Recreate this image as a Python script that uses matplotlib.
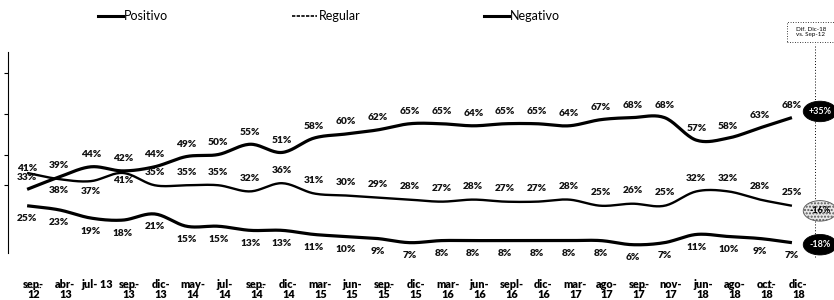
import numpy as np
import matplotlib
matplotlib.use('Agg')
import matplotlib.pyplot as plt
from matplotlib.lines import Line2D
from matplotlib.patches import Ellipse, Rectangle
import matplotlib.transforms as mtransforms

plt.rcParams['font.family'] = ['Lato', 'DejaVu Sans']

# data
periods = ['sep-\n12', 'abr-\n13', 'jul- 13', 'sep-\n13', 'dic-\n13', 'may-\n14', 'jul-\n14',
           'sep-\n14', 'dic-\n14', 'mar-\n15', 'jun-\n15', 'sep-\n15', 'dic-\n15', 'mar-\n16',
           'jun-\n16', 'sepl-\n16', 'dic-\n16', 'mar-\n17', 'ago-\n17', 'sep-\n17', 'nov-\n17',
           'jun-\n18', 'ago-\n18', 'oct-\n18', 'dic-\n18']
underlined = [0, 3, 7, 11, 19, 23]
positivo = [33, 39, 44, 42, 44, 49, 50, 55, 51, 58, 60, 62, 65, 65, 64, 65, 65, 64, 67, 68, 68, 57, 58, 63, 68]
regular = [41, 38, 37, 41, 35, 35, 35, 32, 36, 31, 30, 29, 28, 27, 28, 27, 27, 28, 25, 26, 25, 32, 32, 28, 25]
negativo = [25, 23, 19, 18, 21, 15, 15, 13, 13, 11, 10, 9, 7, 8, 8, 8, 8, 8, 8, 6, 7, 11, 10, 9, 7]
diffs = ['+35%', '-16%', '-18%']


def smooth(y, n=20):
    # cardinal spline through the points (like excel smoothed lines)
    y = np.asarray(y, dtype=float)
    x = np.arange(len(y), dtype=float)
    m = np.zeros_like(y)
    m[1:-1] = (y[2:] - y[:-2]) / 2.0
    m[0] = y[1] - y[0]
    m[-1] = y[-1] - y[-2]
    xs, ys = [], []
    t = np.linspace(0, 1, n, endpoint=False)
    h00 = 2*t**3 - 3*t**2 + 1
    h10 = t**3 - 2*t**2 + t
    h01 = -2*t**3 + 3*t**2
    h11 = t**3 - t**2
    for i in range(len(y) - 1):
        xs.append(x[i] + t)
        ys.append(h00*y[i] + h10*m[i] + h01*y[i+1] + h11*m[i+1])
    xs.append([x[-1]])
    ys.append([y[-1]])
    return np.concatenate(xs), np.concatenate(ys)


fig = plt.figure(figsize=(8.34, 3.0), dpi=100)
ax = fig.add_axes([8/834, 43/300, 826/834, 205/300])
ax.set_xlim(-0.6, 25.32)
ax.set_ylim(0, 100)

for vals, lw in [(positivo, 2.3), (regular, 1.7), (negativo, 2.3)]:
    xs, ys = smooth(vals)
    ax.plot(xs, ys, color='black', lw=lw, solid_capstyle='butt', clip_on=False)

lab_kw = dict(ha='center', va='center', fontsize=7.3, fontweight='heavy', color='#111111')
to_px = lambda dy: mtransforms.offset_copy(ax.transData, fig=fig, x=0, y=dy, units='dots')
for i, v in enumerate(positivo):
    ax.text(i, v, '%d%%' % v, transform=to_px(12), **lab_kw)
reg_off = [4, -11, -10, -8] + [13] * (len(regular) - 4)
for i, v in enumerate(regular):
    ax.text(i, v, '%d%%' % v, transform=to_px(reg_off[i]), **lab_kw)
for i, v in enumerate(negativo):
    ax.text(i, v, '%d%%' % v, transform=to_px(-13), **lab_kw)

# axes styling
for s in ['top', 'right', 'bottom']:
    ax.spines[s].set_visible(False)
ax.spines['left'].set_linewidth(0.8)
ax.spines['left'].set_bounds(2, 100)
ax.set_yticks([35, 50, 70, 90])
ax.set_yticklabels([])
ax.tick_params(axis='y', direction='out', length=3, width=0.8)
ax.set_xticks(np.arange(len(periods)) + 0.2)
ax.set_xticklabels(periods, fontsize=7.8, fontweight='heavy', linespacing=0.9)
ax.tick_params(axis='x', length=0, pad=16)

# underline on some tick labels
blend = mtransforms.blended_transform_factory(ax.transData, ax.transAxes)
for i in underlined:
    ax.plot([i - 0.05, i + 0.42], [-0.148, -0.148], color='#222222', lw=0.8, ls=(0, (1.2, 0.5)),
            transform=blend, clip_on=False)

# legend
handles = [Line2D([], [], color='black', lw=2.2),
           Line2D([], [], color='black', lw=1.2, ls=(0, (2, 0.8))),
           Line2D([], [], color='black', lw=2.2)]
fig.legend(handles, ['Positivo', 'Regular', 'Negativo'], loc='center left',
           bbox_to_anchor=(98/834, 1 - 16/300), ncol=3, frameon=False, fontsize=9,
           handlelength=2, handletextpad=0.1, columnspacing=9.9, borderaxespad=0, borderpad=0)

# difference badges on the right
xb = 24.88
ax.plot([24.72, 24.72], [0, 104], color='black', lw=0.7, ls=(0, (1, 2)), clip_on=False)
box = Rectangle((787/834, 1 - 42/300), 47/834, 20/300, transform=fig.transFigure,
                fill=False, ec='black', lw=0.6, ls=(0, (1, 2)))
fig.patches.append(box)
fig.text(811/834, 1 - 32/300, 'Dif. Dic-18\nvs. Sep-12', ha='center', va='center',
         fontsize=4.5, linespacing=1.1)
ends = [positivo[-1], regular[-1], negativo[-1]]
badge_y = [ends[0] + 3, ends[1] - 2.5, ends[2] - 1]
styles = [('black', 'white', None), ('#e8e8e8', 'black', '.....'), ('black', 'white', None)]
for lab, yb, (fc, tc, hatch) in zip(diffs, badge_y, styles):
    e = Ellipse((xb, yb), 1.05, 10, fc=fc, ec='#555555' if hatch else 'black', lw=0.6,
                hatch=hatch, clip_on=False, zorder=5)
    ax.add_patch(e)
    ax.text(xb, yb, lab, ha='center', va='center', fontsize=6.5, fontweight='bold',
            color=tc, zorder=6, clip_on=False)

fig.savefig('out.png', dpi=100)
